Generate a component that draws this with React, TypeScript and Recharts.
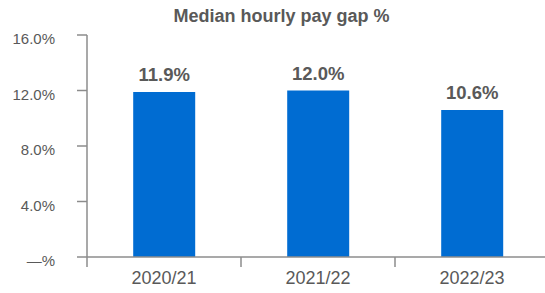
import React from 'react';
import { BarChart, Bar, XAxis, YAxis, LabelList } from 'recharts';

const years = ['2020/21', '2021/22', '2022/23'];
const medianGap = [11.9, 12.0, 10.6];
const yTicks = [0, 4, 8, 12, 16];

const data = years.map((year, i) => ({ year, gap: medianGap[i] }));

const GREY = '#595959';
const AXIS = '#8c8c8c';

const fmtY = (v: number) => (v === 0 ? '\u2014%' : v.toFixed(1) + '%');

function XTick(props: any) {
  const { x, y, payload } = props;
  const off = payload.offset || 0;
  return (
    <g>
      <line x1={x - off} x2={x - off} y1={y} y2={y + 10} stroke={AXIS} strokeWidth={1.5} />
      <text x={x} y={y + 27} textAnchor="middle" fill={GREY} fontSize={18}>
        {payload.value}
      </text>
    </g>
  );
}

export default function App() {
  return (
    <div style={{ position: 'absolute', left: 0, top: 0, width: 545, height: 293, fontFamily: 'Liberation Sans, Arial, sans-serif', background: '#fff', overflow: 'hidden' }}>
      <div style={{ position: 'absolute', left: 18, width: 527, top: 6, textAlign: 'center', fontWeight: 'bold', fontSize: 18, color: GREY }}>
        Median hourly pay gap %
      </div>
      <BarChart width={549} height={293} data={data} margin={{ top: 35, right: 0, left: 0, bottom: 0 }} barCategoryGap="30%">
        <XAxis
          dataKey="year"
          height={36}
          tickLine={false}
          tickSize={0}
          tickMargin={0}
          axisLine={{ stroke: AXIS, strokeWidth: 1.5 }}
          tick={<XTick />}
          interval={0}
        />
        <YAxis
          width={87}
          domain={[0, 16]}
          ticks={yTicks}
          tickFormatter={fmtY}
          tickSize={10}
          tickMargin={22}
          tickLine={{ stroke: AXIS, strokeWidth: 1.5 }}
          axisLine={{ stroke: AXIS, strokeWidth: 1.5 }}
          tick={{ fill: GREY, fontSize: 15, dy: 4 }}
        />
        <Bar dataKey="gap" fill="#006CD2" isAnimationActive={false}>
          <LabelList
            dataKey="gap"
            position="top"
            offset={11}
            formatter={(v: any) => Number(v).toFixed(1) + '%'}
            style={{ fill: GREY, fontSize: 18.5, fontWeight: 'bold' }}
          />
        </Bar>
      </BarChart>
    </div>
  );
}
